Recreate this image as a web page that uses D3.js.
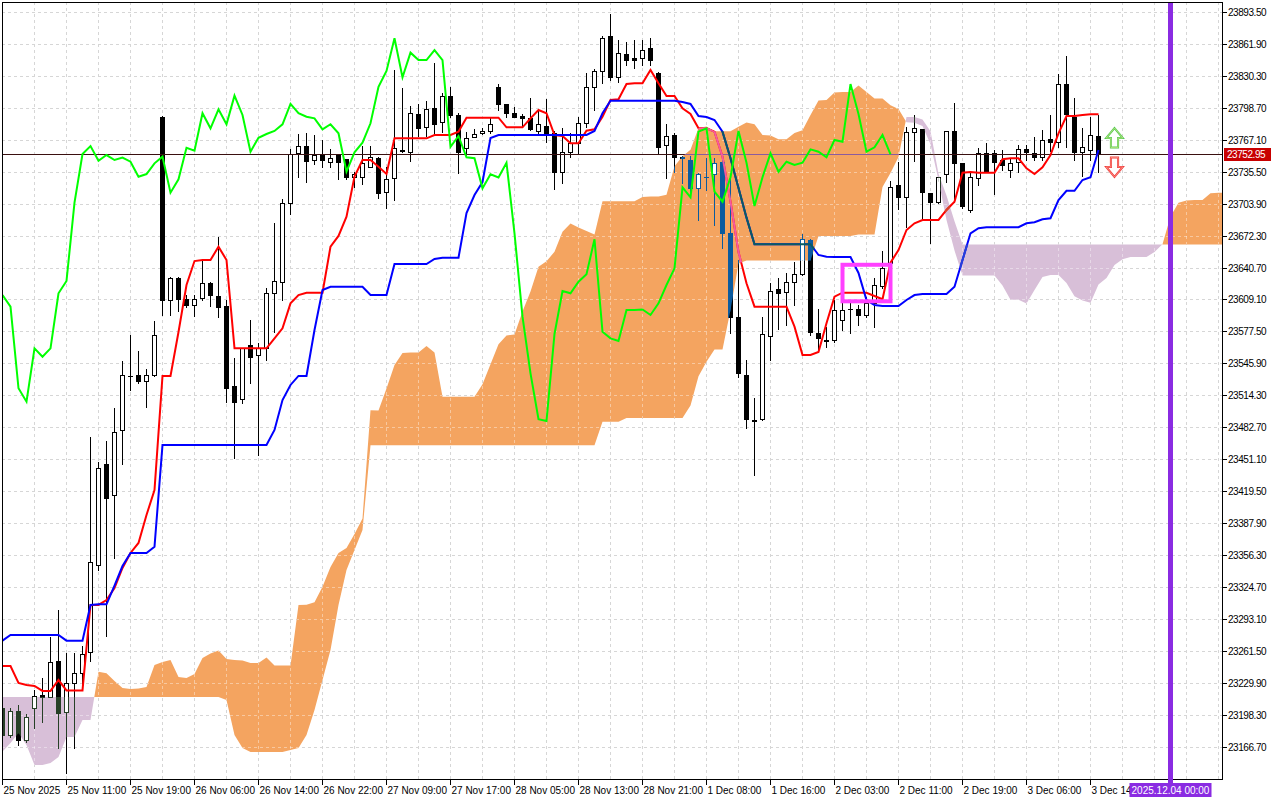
<!DOCTYPE html>
<html><head><meta charset="utf-8">
<script src="https://cdn.jsdelivr.net/npm/d3@7"></script>
<style>html,body{margin:0;padding:0;background:#fff;}svg{display:block;}text{font-family:"Liberation Sans",Arial,sans-serif;}</style>
</head><body><svg id="chart" width="1280" height="800"></svg>
<script>
// ---------------- DATA ----------------
const xLabelBars = [0,8,16,24,32,40,48,56,64,72,80,88,96,104,112,120,128,136];
const xLabels = ["25 Nov 2025","25 Nov 11:00","25 Nov 19:00","26 Nov 06:00","26 Nov 14:00","26 Nov 22:00","27 Nov 09:00","27 Nov 17:00","28 Nov 05:00","28 Nov 13:00","28 Nov 21:00","1 Dec 08:00","1 Dec 16:00","2 Dec 03:00","2 Dec 11:00","2 Dec 19:00","3 Dec 06:00","3 Dec 14:00"];
const yTicks = [23166.70,23198.30,23229.90,23261.50,23293.10,23324.70,23356.30,23387.90,23419.50,23451.10,23482.70,23514.30,23545.90,23577.50,23609.10,23640.70,23672.30,23703.90,23735.50,23767.10,23798.70,23830.30,23861.90,23893.50];

const open = [
23205.8,23179.1,23202.8,23174.1,23205.5,23218.6,23216.9,23252.2,23202.1,23230.2,
23240.0,23261.1,23347.2,23447.0,23416.7,23480.2,23533.5,23534.5,23529.4,23534.5,
23789.7,23608.8,23631.0,23609.6,23604.2,23610.8,23625.6,23613.0,23603.2,23524.1,
23510.9,23564.6,23554.7,23561.3,23616.3,23627.2,23705.3,23754.1,23761.3,23747.5,
23752.4,23745.2,23752.4,23748.2,23731.0,23731.0,23740.9,23749.2,23716.2,23729.4,
23757.2,23755.7,23792.7,23780.4,23798.6,23784.8,23810.8,23792.0,23759.0,23769.9,
23773.9,23776.2,23819.4,23802.6,23793.7,23791.0,23788.7,23776.4,23781.4,23773.9,
23735.3,23755.7,23764.6,23783.8,23819.9,23835.8,23870.1,23829.5,23852.3,23848.3,
23848.3,23858.2,23833.2,23762.3,23772.2,23750.8,23747.5,23720.1,23730.7,23733.3,
23745.8,23675.6,23592.6,23534.9,23490.2,23491.2,23573.5,23619.6,23616.7,23626.6,
23634.5,23668.4,23576.7,23569.2,23569.6,23589.3,23600.2,23599.9,23594.3,23605.8,
23622.9,23645.9,23722.8,23710.6,23775.5,23777.8,23714.6,23706.3,23733.6,23776.2,
23744.8,23698.1,23729.4,23754.1,23754.1,23747.5,23737.6,23745.8,23758.0,23754.1,
23750.2,23767.9,23765.6,23822.6,23790.3,23755.7,23757.4,23771.2];
const high = [
23208.7,23205.8,23208.7,23199.8,23223.5,23235.4,23275.6,23302.6,23259.8,23260.1,
23267.3,23473.3,23448.9,23469.4,23502.3,23548.3,23574.5,23559.1,23540.9,23588.3,
23791.0,23631.8,23631.8,23614.0,23614.0,23648.6,23627.2,23671.7,23609.1,23551.5,
23561.6,23589.3,23566.3,23620.6,23684.9,23708.6,23758.0,23773.2,23773.9,23772.2,
23767.3,23758.0,23752.4,23748.5,23735.9,23761.3,23761.3,23750.8,23740.9,23836.5,
23818.4,23800.9,23802.9,23806.1,23843.7,23814.0,23819.4,23794.3,23775.5,23777.8,
23778.8,23788.7,23822.6,23802.6,23799.6,23793.0,23808.5,23796.2,23807.5,23776.4,
23778.8,23773.9,23790.3,23833.2,23837.2,23870.1,23891.8,23866.1,23864.1,23866.1,
23866.1,23868.1,23834.8,23783.1,23774.5,23751.4,23751.4,23735.0,23749.2,23749.2,
23749.2,23731.0,23648.6,23549.8,23511.9,23592.0,23625.6,23630.5,23635.5,23646.9,
23674.3,23669.4,23599.9,23582.7,23609.1,23607.4,23605.8,23604.2,23612.4,23630.5,
23657.5,23726.7,23745.8,23780.4,23792.0,23777.8,23714.6,23730.7,23776.2,23803.5,
23744.8,23734.3,23759.0,23764.6,23757.4,23757.4,23749.2,23762.3,23762.3,23769.9,
23777.1,23792.0,23832.5,23850.3,23808.5,23778.8,23790.3,23792.0];
const low = [
23176.1,23177.1,23169.2,23172.1,23186.0,23192.2,23216.3,23165.9,23141.2,23166.2,
23223.5,23252.5,23341.7,23276.5,23354.5,23446.7,23520.4,23527.3,23503.7,23534.0,
23594.6,23594.6,23598.2,23602.2,23593.3,23609.1,23603.2,23592.6,23508.6,23452.6,
23507.0,23526.7,23455.9,23549.8,23577.7,23609.1,23694.1,23730.4,23726.0,23743.5,
23740.9,23740.9,23728.4,23728.7,23720.5,23723.8,23740.3,23709.6,23699.7,23707.9,
23755.7,23746.8,23771.2,23771.2,23773.9,23775.5,23789.7,23734.3,23752.4,23769.9,
23773.2,23774.5,23796.9,23789.7,23789.7,23779.8,23777.1,23774.5,23765.6,23718.5,
23724.5,23750.8,23754.7,23780.4,23796.9,23823.3,23826.6,23824.6,23841.4,23838.4,
23841.4,23841.4,23753.4,23729.4,23735.9,23725.0,23716.1,23688.2,23717.8,23683.2,
23660.2,23576.2,23533.3,23482.3,23436.1,23490.5,23549.8,23580.1,23584.4,23604.2,
23633.8,23574.5,23559.7,23562.9,23567.9,23579.4,23576.2,23584.4,23592.6,23582.7,
23620.6,23645.4,23698.7,23681.5,23746.8,23689.9,23665.7,23705.3,23726.0,23706.3,
23700.0,23696.4,23722.8,23735.6,23713.9,23737.6,23731.0,23735.9,23747.5,23747.5,
23747.5,23756.7,23760.0,23760.0,23747.5,23731.7,23747.5,23735.9];
const close = [
23179.1,23202.8,23174.1,23196.9,23217.9,23216.6,23250.9,23201.1,23230.2,23240.0,
23258.8,23350.3,23443.3,23413.6,23478.9,23534.5,23534.0,23529.0,23534.5,23574.5,
23608.8,23631.0,23609.6,23604.2,23610.5,23625.6,23614.0,23602.5,23521.8,23508.6,
23561.3,23553.0,23561.3,23615.7,23627.9,23705.3,23753.4,23761.3,23746.8,23752.4,
23747.5,23749.8,23745.8,23731.0,23733.6,23744.2,23750.8,23715.2,23728.4,23759.6,
23756.7,23793.7,23778.8,23797.6,23782.8,23811.1,23792.0,23755.7,23769.5,23773.2,
23776.2,23782.8,23802.9,23793.7,23790.3,23788.7,23777.8,23782.8,23773.9,23735.9,
23755.1,23764.6,23783.8,23819.9,23835.5,23867.8,23829.2,23853.6,23846.3,23846.3,
23856.2,23846.3,23760.6,23771.2,23750.2,23749.2,23719.5,23733.3,23730.2,23744.8,
23675.0,23592.6,23536.6,23491.2,23489.5,23575.5,23618.0,23615.7,23627.2,23634.5,
23669.1,23577.7,23571.2,23568.5,23599.2,23599.2,23599.7,23594.3,23605.8,23623.9,
23640.4,23720.5,23710.6,23775.5,23778.8,23716.2,23706.3,23730.4,23776.2,23744.8,
23702.0,23730.4,23754.1,23735.9,23745.8,23742.5,23744.8,23758.0,23755.7,23750.2,
23767.3,23765.6,23822.6,23793.0,23755.7,23760.0,23772.2,23752.95];

const tenkan = [
23247.3,23247.3,23230.5,23228.5,23227.5,23222.6,23222.6,23233.4,23223.1,23223.1,
23223.1,23307.6,23307.6,23312.5,23324.4,23344.2,23359.0,23368.9,23396.5,23421.3,
23534.0,23534.0,23577.5,23623.9,23647.6,23648.6,23648.6,23661.8,23648.6,23561.3,
23561.3,23561.3,23561.3,23561.3,23571.2,23581.1,23605.8,23614.0,23616.3,23616.3,
23616.3,23661.8,23672.4,23691.4,23731.0,23747.5,23747.5,23740.9,23733.7,23768.9,
23768.9,23768.9,23768.9,23768.9,23772.2,23772.2,23772.2,23775.5,23789.3,23789.3,
23789.3,23789.3,23789.3,23779.8,23779.8,23779.8,23788.7,23796.9,23793.7,23772.2,
23771.2,23764.0,23764.0,23776.5,23777.8,23790.3,23806.8,23807.5,23822.6,23823.3,
23823.3,23836.5,23823.3,23810.8,23810.8,23798.6,23793.0,23778.8,23778.8,23775.5,
23750.8,23706.3,23656.5,23625.6,23602.5,23602.5,23602.5,23602.5,23602.5,23582.7,
23554.7,23554.7,23557.7,23586.1,23612.4,23616.3,23616.3,23616.3,23616.3,23613.0,
23609.8,23646.0,23658.5,23678.3,23684.9,23688.2,23688.2,23688.2,23698.1,23706.3,
23734.9,23735.6,23734.9,23734.9,23734.9,23748.2,23749.2,23749.2,23739.3,23733.7,
23740.3,23752.4,23773.9,23791.0,23791.0,23792.0,23792.7,23792.7];
const kijun = [
23272.3,23277.9,23277.9,23277.9,23277.9,23277.9,23277.9,23277.9,23272.3,23272.3,
23272.3,23307.6,23308.2,23308.2,23326.7,23346.1,23359.0,23359.0,23359.0,23365.2,
23465.7,23465.7,23465.7,23465.7,23465.7,23465.7,23465.7,23465.7,23465.7,23465.7,
23465.7,23465.7,23465.7,23465.7,23480.6,23510.2,23525.1,23534.0,23534.0,23579.4,
23619.0,23622.2,23622.2,23622.2,23622.2,23622.2,23614.0,23614.0,23614.0,23644.7,
23644.7,23644.7,23644.7,23644.7,23649.6,23650.9,23650.9,23650.9,23695.1,23712.9,
23725.7,23769.2,23772.2,23772.2,23772.2,23772.2,23772.2,23772.2,23772.2,23772.2,
23772.2,23772.2,23772.2,23772.2,23776.2,23793.7,23806.1,23806.1,23806.1,23806.1,
23806.1,23806.1,23806.1,23806.1,23806.1,23804.8,23802.9,23791.0,23790.0,23787.0,
23775.5,23749.2,23719.8,23690.5,23664.2,23664.2,23664.2,23664.2,23664.2,23664.2,
23664.2,23664.2,23653.6,23651.9,23651.6,23651.6,23651.6,23635.8,23609.1,23604.1,
23603.2,23603.2,23603.2,23609.1,23614.0,23615.0,23615.0,23615.0,23615.0,23622.2,
23648.6,23675.0,23680.0,23681.0,23681.0,23681.0,23681.0,23681.0,23684.9,23685.9,
23688.9,23689.9,23707.9,23717.1,23717.1,23727.7,23730.4,23757.4];
// lagging span, plotted from bar 0
const chikou = [
23614.0,23602.5,23521.8,23508.6,23561.3,23553.0,23561.3,23615.7,23627.9,23705.3,
23753.4,23761.3,23746.8,23752.4,23747.5,23749.8,23745.8,23731.0,23733.6,23744.2,
23750.8,23715.2,23728.4,23759.6,23756.7,23793.7,23778.8,23797.6,23782.8,23811.1,
23792.0,23755.7,23769.5,23773.2,23776.2,23782.8,23802.9,23793.7,23790.3,23788.7,
23777.8,23782.8,23773.9,23735.9,23755.1,23764.6,23783.8,23819.9,23835.5,23867.8,
23829.2,23853.6,23846.3,23846.3,23856.2,23846.3,23760.6,23771.2,23750.2,23749.2,
23719.5,23733.3,23730.2,23744.8,23675.0,23592.6,23536.6,23491.2,23489.5,23575.5,
23618.0,23615.7,23627.2,23634.5,23669.1,23577.7,23571.2,23568.5,23599.2,23599.2,
23599.7,23594.3,23605.8,23623.9,23640.4,23720.5,23710.6,23775.5,23778.8,23716.2,
23706.3,23730.4,23776.2,23744.8,23702.0,23730.4,23754.1,23735.9,23745.8,23742.5,
23744.8,23758.0,23755.7,23750.2,23767.3,23765.6,23822.6,23793.0,23755.7,23760.0,
23772.2,23752.95];
// leading spans, plotted from bar 0 (already shifted forward)
const senkouA = [
23162.6,23171.2,23181.0,23169.2,23149.4,23149.4,23151.4,23157.3,23177.1,23177.1,
23193.9,23193.9,23241.6,23240.1,23232.4,23225.5,23224.5,23225.0,23226.5,23248.3,
23251.2,23253.2,23236.4,23235.4,23239.4,23255.2,23259.7,23262.6,23254.2,23253.2,
23252.7,23250.2,23250.2,23255.7,23247.7,23247.7,23247.7,23307.6,23307.9,23310.3,
23325.5,23345.1,23359.0,23363.9,23377.8,23393.2,23500.0,23499.8,23521.6,23544.8,
23556.7,23557.2,23557.2,23563.7,23557.2,23513.5,23513.5,23513.5,23513.5,23513.5,
23525.9,23545.6,23565.4,23574.0,23575.1,23597.8,23617.6,23642.0,23647.3,23656.8,
23676.6,23684.8,23680.8,23677.4,23673.8,23706.8,23706.8,23706.8,23706.8,23706.8,
23710.9,23711.5,23711.5,23713.2,23741.2,23751.1,23757.5,23779.2,23780.7,23776.0,
23776.0,23776.0,23780.4,23784.6,23782.9,23772.2,23771.7,23768.1,23768.1,23774.3,
23777.0,23792.0,23806.4,23806.8,23814.3,23814.7,23814.7,23821.2,23814.7,23808.4,
23808.4,23801.7,23797.9,23784.9,23784.4,23781.2,23763.1,23727.7,23688.2,23658.0,
23633.3,23633.3,23633.3,23633.3,23633.3,23623.4,23609.4,23609.4,23605.6,23619.0,
23631.9,23633.9,23633.9,23626.0,23612.7,23608.6,23606.4,23624.5,23630.8,23643.7,
23649.4,23651.6,23651.6,23651.6,23656.5,23664.3,23691.7,23705.3,23707.5,23707.9,
23707.9,23714.6,23715.1,23715.1];
const senkouB = [
23216.6,23216.6,23216.6,23216.6,23216.6,23216.6,23216.6,23216.6,23216.6,23216.6,
23216.6,23216.6,23216.6,23216.6,23216.6,23216.6,23216.6,23216.6,23216.6,23216.6,
23216.6,23216.6,23216.6,23216.6,23216.6,23216.6,23216.6,23216.6,23213.7,23179.1,
23166.2,23162.3,23162.3,23162.3,23162.3,23162.3,23164.2,23166.2,23179.1,23203.8,
23233.5,23263.1,23307.6,23342.2,23362.0,23381.8,23465.5,23465.5,23465.5,23465.5,
23465.5,23465.5,23465.5,23465.5,23465.5,23465.5,23465.5,23465.5,23465.5,23465.5,
23465.5,23465.5,23465.5,23465.5,23465.5,23465.5,23465.5,23465.5,23465.5,23465.5,
23465.5,23465.5,23465.5,23465.5,23465.5,23488.8,23488.8,23488.8,23492.4,23492.4,
23492.4,23492.4,23492.4,23492.4,23492.4,23492.4,23504.9,23533.6,23548.1,23560.2,
23560.2,23599.2,23645.2,23648.1,23648.1,23648.1,23648.1,23648.1,23648.1,23648.1,
23648.1,23648.1,23672.4,23672.4,23672.4,23672.4,23672.4,23673.8,23673.8,23673.8,
23720.8,23734.6,23750.5,23790.0,23790.0,23787.5,23776.0,23733.9,23712.5,23687.0,
23664.0,23664.0,23664.0,23664.0,23664.0,23664.0,23664.0,23664.0,23664.0,23664.0,
23664.0,23664.0,23664.0,23664.0,23664.0,23664.0,23664.0,23664.0,23664.0,23664.0,
23664.0,23664.0,23664.0,23664.0,23664.0,23664.0,23664.0,23664.0,23664.0,23664.0,
23664.0,23664.0,23664.0,23664.0];

const lastPrice = 23752.95;
const vlineBar = 146, vlineLabel = "2025.12.04 00:00";
const boxBars = [105, 111], boxPrices = [23607.8, 23643.9];
const arrowMarks = [{bar:139, price:23779.1, dir:"up"}, {bar:139, price:23730.7, dir:"down"}];

// ---------------- CHART ----------------
const svg = d3.select("#chart");
const L = 2, T = 2, R = 1222, B = 779;
const x = d3.scaleLinear().domain([0, 152]).range([2.5, 1218.5]);
const y = d3.scaleLinear().domain([23166.7, 23893.5]).range([747.5, 12.3]);
const snap = v => Math.round(v - 0.5) + 0.5;

const defs = svg.append("defs");
defs.append("clipPath").attr("id","plotClip").append("rect")
  .attr("x", L+1).attr("y", T+1).attr("width", R-L-1).attr("height", B-T-1);

// cloud geometry
const cloudPts = [];
for (let i = 0; i < senkouA.length; i++) {
  cloudPts.push({i, a: senkouA[i], b: senkouB[i]});
  if (i < senkouA.length - 1) {
    const d0 = senkouA[i]-senkouB[i], d1 = senkouA[i+1]-senkouB[i+1];
    if (d0*d1 < 0) {
      const t = d0/(d0-d1);
      const v = senkouA[i] + t*(senkouA[i+1]-senkouA[i]);
      cloudPts.push({i: i+t, a: v, b: v});
    }
  }
}
const orangeD = d3.area().x(d=>x(d.i)).y0(d=>y(d.b)).y1(d=>y(Math.max(d.a,d.b)))(cloudPts);
const purpleD = d3.area().x(d=>x(d.i)).y0(d=>y(d.a)).y1(d=>y(Math.max(d.a,d.b)))(cloudPts);
defs.append("clipPath").attr("id","orangeClip").append("path").attr("d", orangeD);
defs.append("clipPath").attr("id","purpleClip").append("path").attr("d", purpleD);

const plot = svg.append("g").attr("clip-path","url(#plotClip)");

function drawGrid(g, color, opacity) {
  g.selectAll("line.h").data(yTicks).join("line")
    .attr("x1", L).attr("x2", R).attr("y1", d=>snap(y(d))).attr("y2", d=>snap(y(d)))
    .attr("stroke", color).attr("stroke-opacity", opacity).attr("stroke-dasharray","3,3");
  g.selectAll("line.v").data(d3.range(0, 153, 4)).join("line")
    .attr("y1", T).attr("y2", B).attr("x1", d=>x(d)).attr("x2", d=>x(d))
    .attr("stroke", color).attr("stroke-opacity", opacity).attr("stroke-dasharray","3,3");
}
drawGrid(plot.append("g"), "#d6d6d6", 1);

plot.append("path").attr("d", orangeD).attr("fill", "#f4a460");
plot.append("path").attr("d", purpleD).attr("fill", "#d8bfd8");
const cloudGrid = plot.append("g");
drawGrid(cloudGrid.append("g").attr("clip-path","url(#orangeClip)"), "#ffffff", 0.4);
drawGrid(cloudGrid.append("g").attr("clip-path","url(#purpleClip)"), "#ffffff", 0.4);

function drawCandles(g, ink) {
  const idx = d3.range(open.length);
  g.selectAll("line.w").data(idx).join("line")
    .attr("x1", i=>x(i)).attr("x2", i=>x(i))
    .attr("y1", i=>Math.round(y(high[i]))).attr("y2", i=>Math.round(y(low[i]))+1)
    .attr("stroke", ink).attr("stroke-width", 1);
  idx.forEach(i => {
    const top = Math.round(y(Math.max(open[i], close[i]))) + 0.5;
    const bot = Math.round(y(Math.min(open[i], close[i]))) + 0.5;
    const bull = close[i] > open[i];
    if (bot - top < 1) {
      g.append("line").attr("x1", x(i)-2.5).attr("x2", x(i)+2.5).attr("y1", top).attr("y2", top)
        .attr("stroke", ink);
    } else {
      g.append("rect").attr("x", x(i)-2).attr("y", top).attr("width", 4).attr("height", bot-top)
        .attr("fill", bull ? "#ffffff" : ink).attr("stroke", ink).attr("stroke-width", 1);
    }
  });
}
function drawLines(g, cT, cK, cP) {
  g.append("line").attr("x1", L).attr("x2", R).attr("y1", snap(y(lastPrice))).attr("y2", snap(y(lastPrice)))
    .attr("stroke", cP).attr("stroke-width", 1);
  g.append("path").datum(tenkan).attr("fill","none").attr("stroke", cT).attr("stroke-width", 2)
    .attr("d", d3.line().x((d,i)=>x(i)).y(d=>y(d)));
  g.append("path").datum(kijun).attr("fill","none").attr("stroke", cK).attr("stroke-width", 2)
    .attr("d", d3.line().x((d,i)=>x(i)).y(d=>y(d)));
}
drawCandles(plot.append("g"), "#000000");
drawLines(plot.append("g"), "#ff0000", "#0000ff", "#3a1010");

const gO = plot.append("g").attr("clip-path","url(#orangeClip)");
drawCandles(gO, "#0b5b9f");
drawLines(gO, "#f45b9f", "#0b5b60", "#8a5b9f");
const gP = plot.append("g").attr("clip-path","url(#purpleClip)");
drawCandles(gP, "#274027");
drawLines(gP, "#d84027", "#2740d8", "#5d4027");

plot.append("path").datum(chikou).attr("fill","none").attr("stroke","#00ff00").attr("stroke-width",2)
  .attr("d", d3.line().x((d,i)=>x(i)).y(d=>y(d)));

// rectangle annotation
plot.append("rect")
  .attr("x", x(boxBars[0])).attr("y", y(boxPrices[1]))
  .attr("width", x(boxBars[1]) - x(boxBars[0])).attr("height", y(boxPrices[0]) - y(boxPrices[1]))
  .attr("fill","none").attr("stroke","#ff40ff").attr("stroke-width",4);

// arrows
arrowMarks.forEach(a => {
  const cx = x(a.bar), cy = y(a.price);
  const s = a.dir === "up" ? 1 : -1;
  const pts = [[0,0],[8.3,10],[3.6,10],[3.6,19.5],[-3.6,19.5],[-3.6,10],[-8.3,10]]
    .map(p => [cx + p[0], cy + s*p[1]]);
  const d = "M" + pts.map(p=>p.join(",")).join("L") + "Z";
  const outer = a.dir === "up" ? "#55c855" : "#f03c3c";
  const inner = a.dir === "up" ? "#e4f28a" : "#ffb0a0";
  plot.append("path").attr("d", d).attr("fill","#ffffff").attr("stroke", outer).attr("stroke-width", 2);
  plot.append("path").attr("d", d).attr("fill","none").attr("stroke", inner).attr("stroke-width", 0.6);
});

// frame
svg.append("rect").attr("x", L+0.5).attr("y", T+0.5).attr("width", R-L).attr("height", B-T)
  .attr("fill","none").attr("stroke","#000").attr("stroke-width",1);

// y axis
const yAxis = svg.append("g");
yTicks.forEach(t => {
  const yy = snap(y(t));
  yAxis.append("line").attr("x1", R).attr("x2", R+5).attr("y1", yy).attr("y2", yy).attr("stroke","#000");
  yAxis.append("text").attr("x", R+6).attr("y", yy).attr("dy","0.35em")
    .attr("font-size", 10).attr("letter-spacing","-0.45px").attr("fill","#000").text(d3.format(".2f")(t));
});
// last price label
const ly = snap(y(lastPrice));
svg.append("rect").attr("x", R+2).attr("y", ly-6.5).attr("width", 47).attr("height", 13).attr("fill","#c80000");
svg.append("text").attr("x", R+5).attr("y", ly).attr("dy","0.35em").attr("font-size",10)
  .attr("letter-spacing","-0.45px").attr("fill","#fff").text(d3.format(".2f")(lastPrice));

// x axis
const xAxis = svg.append("g");
xLabelBars.forEach((b, k) => {
  xAxis.append("line").attr("x1", x(b)).attr("x2", x(b)).attr("y1", B).attr("y2", B+6).attr("stroke","#000");
  xAxis.append("text").attr("x", x(b)+1).attr("y", 794).attr("font-size",10).attr("fill","#000").text(xLabels[k]);
});

// vertical line + label
svg.append("line").attr("x1", x(vlineBar)).attr("x2", x(vlineBar)).attr("y1", T+1).attr("y2", 784)
  .attr("stroke","#8a2be2").attr("stroke-width",5);
svg.append("rect").attr("x", x(vlineBar)-41).attr("y", 783).attr("width", 82).attr("height", 14).attr("fill","#8a2be2");
svg.append("text").attr("x", x(vlineBar)).attr("y", 794).attr("text-anchor","middle").attr("font-size",10)
  .attr("fill","#fff").text(vlineLabel);
</script></body></html>
